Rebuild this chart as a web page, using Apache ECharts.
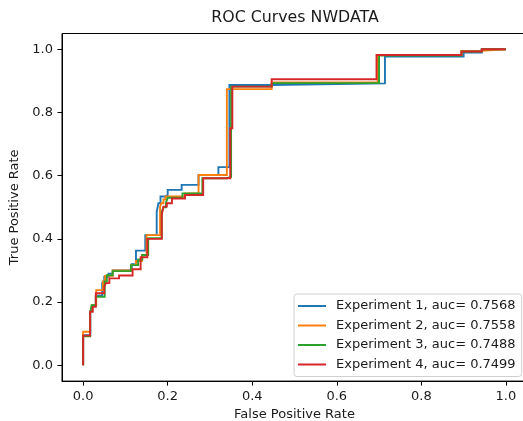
<!DOCTYPE html>
<html>
<head>
<meta charset="utf-8">
<script src="https://cdn.jsdelivr.net/npm/echarts@6/dist/echarts.min.js"></script>
<style>
  html, body { margin: 0; padding: 0; background: #fff; overflow: hidden; }
  #chart { width: 540px; height: 421px; }
</style>
</head>
<body>
<div id="chart"></div>
<script>
// ROC curve vertices (false positive rate, true positive rate) per experiment
const exp1Fpr = [0, 0, 0.017, 0.017, 0.022, 0.022, 0.03, 0.03, 0.045, 0.045, 0.05, 0.05, 0.06, 0.06, 0.07, 0.07, 0.115, 0.115, 0.125, 0.125, 0.147, 0.147, 0.174, 0.174, 0.178, 0.178, 0.183, 0.183, 0.194, 0.194, 0.2, 0.2, 0.233, 0.233, 0.273, 0.273, 0.32, 0.32, 0.346, 0.346, 0.446, 0.446, 0.714, 0.714, 0.9, 0.9, 0.943, 0.943, 1];
const exp1Tpr = [0, 0.095, 0.095, 0.17, 0.17, 0.19, 0.19, 0.22, 0.22, 0.26, 0.26, 0.28, 0.28, 0.29, 0.29, 0.3, 0.3, 0.32, 0.32, 0.363, 0.363, 0.412, 0.412, 0.486, 0.486, 0.513, 0.513, 0.534, 0.534, 0.539, 0.539, 0.555, 0.555, 0.571, 0.571, 0.602, 0.602, 0.627, 0.627, 0.887, 0.887, 0.892, 0.892, 0.977, 0.977, 0.99, 0.99, 1, 1];

const exp2Fpr = [0, 0, 0.0165, 0.0165, 0.022, 0.022, 0.031, 0.031, 0.047, 0.047, 0.052, 0.052, 0.07, 0.07, 0.113, 0.113, 0.125, 0.125, 0.139, 0.139, 0.15, 0.15, 0.182, 0.182, 0.185, 0.185, 0.19, 0.19, 0.195, 0.195, 0.241, 0.241, 0.273, 0.273, 0.34, 0.34, 0.446, 0.446, 0.697, 0.697, 0.895, 0.895, 0.943, 0.943, 1];
const exp2Tpr = [0, 0.106, 0.106, 0.17, 0.17, 0.19, 0.19, 0.238, 0.238, 0.265, 0.265, 0.283, 0.283, 0.3, 0.3, 0.317, 0.317, 0.33, 0.33, 0.349, 0.349, 0.412, 0.412, 0.502, 0.502, 0.513, 0.513, 0.525, 0.525, 0.534, 0.534, 0.544, 0.544, 0.602, 0.602, 0.874, 0.874, 0.895, 0.895, 0.982, 0.982, 0.995, 0.995, 1, 1];

const exp3Fpr = [0, 0, 0.0165, 0.0165, 0.02, 0.02, 0.03, 0.03, 0.051, 0.051, 0.056, 0.056, 0.07, 0.07, 0.113, 0.113, 0.13, 0.13, 0.14, 0.14, 0.154, 0.154, 0.186, 0.186, 0.19, 0.19, 0.196, 0.196, 0.2, 0.2, 0.235, 0.235, 0.282, 0.282, 0.34, 0.34, 0.35, 0.35, 0.446, 0.446, 0.7, 0.7, 0.895, 0.895, 0.943, 0.943, 1];
const exp3Tpr = [0, 0.092, 0.092, 0.165, 0.165, 0.19, 0.19, 0.217, 0.217, 0.265, 0.265, 0.285, 0.285, 0.298, 0.298, 0.317, 0.317, 0.335, 0.335, 0.349, 0.349, 0.402, 0.402, 0.486, 0.486, 0.5, 0.5, 0.515, 0.515, 0.53, 0.53, 0.544, 0.544, 0.592, 0.592, 0.596, 0.596, 0.882, 0.882, 0.893, 0.893, 0.98, 0.98, 0.993, 0.993, 1, 1];

const exp4Fpr = [0, 0, 0.0165, 0.0165, 0.0225, 0.0225, 0.03, 0.03, 0.05, 0.05, 0.054, 0.054, 0.062, 0.062, 0.085, 0.085, 0.117, 0.117, 0.136, 0.136, 0.152, 0.152, 0.186, 0.186, 0.19, 0.19, 0.198, 0.198, 0.21, 0.21, 0.241, 0.241, 0.284, 0.284, 0.348, 0.348, 0.353, 0.353, 0.446, 0.446, 0.694, 0.694, 0.895, 0.895, 0.943, 0.943, 1];
const exp4Tpr = [0, 0.094, 0.094, 0.17, 0.17, 0.185, 0.185, 0.228, 0.228, 0.249, 0.249, 0.26, 0.26, 0.275, 0.275, 0.284, 0.284, 0.304, 0.304, 0.342, 0.342, 0.4, 0.4, 0.476, 0.476, 0.502, 0.502, 0.513, 0.513, 0.528, 0.528, 0.539, 0.539, 0.592, 0.592, 0.75, 0.75, 0.882, 0.882, 0.905, 0.905, 0.982, 0.982, 0.993, 0.993, 1, 1];

const seriesNames = [
  'Experiment 1, auc= 0.7568',
  'Experiment 2, auc= 0.7558',
  'Experiment 3, auc= 0.7488',
  'Experiment 4, auc= 0.7499'
];
const seriesColors = ['#1f77b4', '#ff7f0e', '#2ca02c', '#d62728'];
const tickValues = [0, 0.2, 0.4, 0.6, 0.8, 1.0];

const curves = [
  [exp1Fpr, exp1Tpr],
  [exp2Fpr, exp2Tpr],
  [exp3Fpr, exp3Tpr],
  [exp4Fpr, exp4Tpr]
];

const FONT = 'DejaVu Sans';
const TEXT = '#1a1a1a';
const FS = 13;

const chart = echarts.init(document.getElementById('chart'), null, { renderer: 'canvas' });

const series = curves.map(([fpr, tpr], i) => ({
  name: seriesNames[i],
  type: 'line',
  data: fpr.map((x, k) => [x, tpr[k]]),
  showSymbol: false,
  symbol: 'none',
  lineStyle: { width: 1.9, color: seriesColors[i], join: 'miter', cap: 'butt' },
  itemStyle: { color: seriesColors[i] },
  z: 2 + i,
  silent: true
}));

function valueAxis(name, extra) {
  return Object.assign({
    type: 'value',
    min: -0.05,
    max: 1.05,
    name: name,
    nameLocation: 'middle',
    nameTextStyle: { fontFamily: FONT, fontSize: FS, color: TEXT },
    axisLine: { show: true, onZero: false, lineStyle: { color: '#000', width: 1 } },
    axisTick: { show: true, length: 4.5, inside: false, customValues: tickValues, lineStyle: { color: '#000', width: 1 } },
    axisLabel: {
      customValues: tickValues,
      formatter: v => v.toFixed(1),
      fontFamily: FONT,
      fontSize: FS,
      color: TEXT,
      margin: 9
    },
    splitLine: { show: false }
  }, extra);
}

chart.setOption({
  animation: false,
  backgroundColor: '#fff',
  title: {
    text: 'ROC Curves NWDATA',
    left: 290,
    textAlign: 'center',
    top: 5,
    textStyle: { fontFamily: FONT, fontSize: 15.8, fontWeight: 'normal', color: TEXT }
  },
  grid: {
    left: 62,
    top: 33.5,
    width: 465,
    height: 347.6,
    show: true,
    backgroundColor: 'transparent',
    borderColor: '#000',
    borderWidth: 1,
    containLabel: false,
    outerBoundsMode: 'none'
  },
  xAxis: valueAxis('False Positive Rate', { nameGap: 25 }),
  yAxis: valueAxis('True Positive Rate', { nameGap: 23, nameRotate: 90 }),
  legend: {
    orient: 'vertical',
    left: 294,
    top: 294,
    data: seriesNames.map(n => ({ name: n })),
    icon: 'rect',
    itemWidth: 28,
    itemHeight: 2,
    itemGap: 5.5,
    padding: [5, 6, 5, 4],
    backgroundColor: 'rgba(255,255,255,0.85)',
    borderColor: '#d0d0d0',
    borderWidth: 1,
    borderRadius: 3,
    textStyle: { fontFamily: FONT, fontSize: FS, color: TEXT, lineHeight: 14, padding: [0, 0, 0, 5] },
    selectedMode: false
  },
  series: series
});
</script>
</body>
</html>
